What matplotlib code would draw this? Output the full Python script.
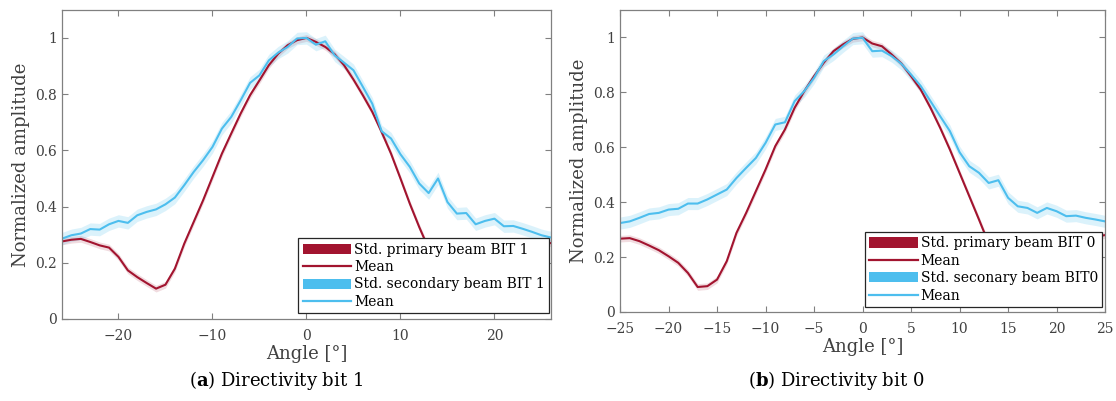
import numpy as np
import matplotlib
matplotlib.use("Agg")
import matplotlib.pyplot as plt
from matplotlib.patches import Patch
from matplotlib.lines import Line2D
from matplotlib.ticker import FormatStrFormatter

plt.rcParams["font.family"] = ["DejaVu Serif"]
plt.rcParams["mathtext.fontset"] = "dejavuserif"

RED = "#a2142f"
BLUE = "#4dbeee"

# panel (a): directivity bit 1, angles -26..26
angle_a = list(range(-26, 27))
primary_a = [0.276, 0.282, 0.285, 0.274, 0.262, 0.254, 0.221, 0.173, 0.149, 0.128,
             0.108, 0.122, 0.179, 0.268, 0.345, 0.422, 0.505, 0.588, 0.660, 0.731,
             0.796, 0.849, 0.903, 0.944, 0.974, 0.992, 1.000, 0.986, 0.968, 0.942,
             0.903, 0.852, 0.796, 0.737, 0.665, 0.588, 0.500, 0.410, 0.327, 0.250,
             0.200, 0.170, 0.160, 0.170, 0.190, 0.210, 0.230, 0.240, 0.250, 0.260,
             0.265, 0.270, 0.270]
secondary_a = [0.286, 0.298, 0.304, 0.320, 0.318, 0.337, 0.349, 0.342, 0.369, 0.381,
               0.390, 0.408, 0.432, 0.476, 0.523, 0.565, 0.612, 0.677, 0.719, 0.778,
               0.840, 0.867, 0.920, 0.948, 0.968, 0.998, 1.000, 0.976, 0.988, 0.938,
               0.912, 0.885, 0.826, 0.766, 0.668, 0.642, 0.586, 0.541, 0.482, 0.448,
               0.500, 0.416, 0.375, 0.377, 0.337, 0.349, 0.357, 0.330, 0.331, 0.321,
               0.310, 0.298, 0.290]

# panel (b): directivity bit 0, angles -25..25
angle_b = list(range(-25, 26))
primary_b = [0.267, 0.269, 0.258, 0.242, 0.225, 0.203, 0.179, 0.142, 0.091, 0.094,
             0.118, 0.185, 0.288, 0.361, 0.440, 0.519, 0.604, 0.665, 0.744, 0.805,
             0.859, 0.908, 0.950, 0.975, 0.995, 1.000, 0.978, 0.968, 0.938, 0.905,
             0.859, 0.810, 0.744, 0.671, 0.592, 0.507, 0.422, 0.337, 0.250, 0.190,
             0.150, 0.140, 0.150, 0.170, 0.190, 0.210, 0.230, 0.250, 0.265, 0.275,
             0.280]
secondary_b = [0.324, 0.330, 0.343, 0.357, 0.361, 0.373, 0.376, 0.395, 0.395, 0.410,
               0.428, 0.446, 0.488, 0.525, 0.561, 0.616, 0.683, 0.691, 0.768, 0.805,
               0.853, 0.914, 0.938, 0.968, 0.996, 0.999, 0.950, 0.952, 0.932, 0.904,
               0.865, 0.823, 0.768, 0.713, 0.659, 0.582, 0.531, 0.507, 0.470, 0.480,
               0.416, 0.385, 0.379, 0.361, 0.379, 0.367, 0.349, 0.351, 0.343, 0.337,
               0.330]

primary_std = 0.012
secondary_std = 0.022

panels = [
    dict(angle=angle_a, prim=primary_a, sec=secondary_a, xlim=(-26, 26),
         xticks=[-20, -10, 0, 10, 20], rect=[0.0556, 0.2045, 0.438, 0.771],
         labels=["Std. primary beam BIT 1", "Mean", "Std. secondary beam BIT 1", "Mean"],
         anchor=(0.996, 0.019), caption=r"($\mathbf{a}$) Directivity bit 1", cx=0.247),
    dict(angle=angle_b, prim=primary_b, sec=secondary_b, xlim=(-25, 25),
         xticks=list(range(-25, 26, 5)), rect=[0.5556, 0.222, 0.4346, 0.753],
         labels=["Std. primary beam BIT 0", "Mean", "Std. seconary beam BIT0", "Mean"],
         anchor=(0.994, 0.017), caption=r"($\mathbf{b}$) Directivity bit 0", cx=0.749),
]

fig = plt.figure(figsize=(11.16, 4.01), dpi=100)

for p in panels:
    ax = fig.add_axes(p["rect"])
    x = np.array(p["angle"])
    prim = np.array(p["prim"])
    sec = np.array(p["sec"])
    ax.fill_between(x, prim - primary_std, prim + primary_std, color=RED, alpha=0.15, lw=0)
    ax.plot(x, prim, color=RED, lw=1.5)
    ax.fill_between(x, sec - secondary_std, sec + secondary_std, color=BLUE, alpha=0.2, lw=0)
    ax.plot(x, sec, color=BLUE, lw=1.5)

    ax.set_xlim(p["xlim"])
    ax.set_ylim(0, 1.1)
    ax.set_xticks(p["xticks"])
    ax.set_yticks([0, 0.2, 0.4, 0.6, 0.8, 1])
    ax.yaxis.set_major_formatter(FormatStrFormatter("%g"))
    ax.tick_params(direction="in", top=True, right=True, length=4, width=0.8,
                   colors="#808080", labelcolor="#404040", labelsize=10)
    ax.tick_params(axis="x", pad=7)
    for s in ax.spines.values():
        s.set_color("#808080")
        s.set_linewidth(0.9)
    ax.set_xlabel("Angle [°]", fontsize=13, color="#404040", labelpad=2)
    ax.set_ylabel("Normalized amplitude", fontsize=13, color="#404040", labelpad=4)

    handles = [Patch(facecolor=RED, edgecolor="none"), Line2D([], [], color=RED, lw=1.6),
               Patch(facecolor=BLUE, edgecolor="none"), Line2D([], [], color=BLUE, lw=1.6)]
    leg = ax.legend(handles, p["labels"], loc="lower right", bbox_to_anchor=p["anchor"],
                    borderaxespad=0, fontsize=10, handlelength=3.5, handleheight=0.75,
                    handletextpad=0.2, labelspacing=0.25, borderpad=0.3, fancybox=False,
                    framealpha=1, edgecolor="#262626")
    leg.get_frame().set_linewidth(0.9)

    fig.text(p["cx"], 0.05, p["caption"], ha="center", va="center", fontsize=13)

fig.savefig("out.png", dpi=100)
